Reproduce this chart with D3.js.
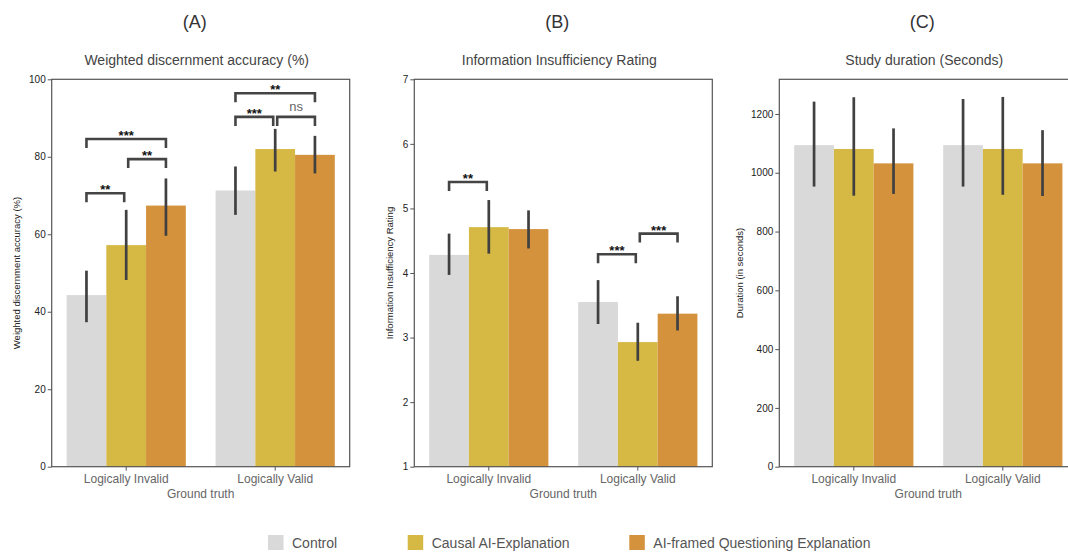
<!DOCTYPE html>
<html>
<head>
<meta charset="utf-8">
<script src="https://cdn.jsdelivr.net/npm/d3@7"></script>
<style>
  body { margin: 0; background: #fff; }
  svg { display: block; font-family: "Liberation Sans", Arial, sans-serif; }
</style>
</head>
<body>
<svg id="chart" width="1068" height="554"></svg>
<script>
// categories
const groups = ["Logically Invalid", "Logically Valid"];
const conditions = ["Control", "Causal AI-Explanation", "AI-framed Questioning Explanation"];
const colors = ["#d9d9d9", "#d6b945", "#d4923c"];

// (A) weighted discernment accuracy, [group][condition]
const accuracyMean = [[44.3, 57.2, 67.4], [71.3, 82.0, 80.5]];
const accuracyLow  = [[37.3, 48.2, 59.6], [65.0, 76.2, 75.7]];
const accuracyHigh = [[50.6, 66.3, 74.4], [77.5, 87.2, 85.4]];
// [group, from, to, level, label]
const accuracySig = [
  [0, 0, 1, 70.6, "**"], [0, 1, 2, 79.4, "**"], [0, 0, 2, 84.6, "***"],
  [1, 0, 1, 90.3, "***"], [1, 1, 2, 90.3, "ns"], [1, 0, 2, 96.4, "**"]
];

// (B) information insufficiency rating
const ratingMean = [[4.28, 4.71, 4.68], [3.55, 2.93, 3.37]];
const ratingLow  = [[3.97, 4.30, 4.38], [3.21, 2.64, 3.11]];
const ratingHigh = [[4.61, 5.13, 4.97], [3.89, 3.23, 3.64]];
const ratingSig = [
  [0, 0, 1, 5.41, "**"], [1, 0, 1, 4.29, "***"], [1, 1, 2, 4.61, "***"]
];

// (C) study duration
const durationMean = [[1094, 1081, 1032], [1094, 1081, 1032]];
const durationLow  = [[953, 922, 928], [953, 925, 921]];
const durationHigh = [[1242, 1257, 1151], [1251, 1258, 1145]];

const panels = [
  { letter: "(A)", title: "Weighted discernment accuracy (%)", ylabel: "Weighted discernment accuracy (%)",
    left: 51.7, domain: [0, 100], ticks: [0, 20, 40, 60, 80, 100],
    mean: accuracyMean, low: accuracyLow, high: accuracyHigh, sig: accuracySig, ylabX: 20 },
  { letter: "(B)", title: "Information Insufficiency Rating", ylabel: "Information Insufficiency Rating",
    left: 414.3, domain: [1, 7], ticks: [1, 2, 3, 4, 5, 6, 7],
    mean: ratingMean, low: ratingLow, high: ratingHigh, sig: ratingSig, ylabX: 393 },
  { letter: "(C)", title: "Study duration (Seconds)", ylabel: "Duration (in seconds)",
    left: 779.3, domain: [0, 1318], ticks: [0, 200, 400, 600, 800, 1000, 1200],
    mean: durationMean, low: durationLow, high: durationHigh, sig: [], ylabX: 743 }
];

const svg = d3.select("#chart");
const plotTop = 79.3, plotBottom = 466.7, plotW = 298;

panels.forEach(p => {
  const g = svg.append("g");
  const x = d3.scaleBand().domain(groups).range([p.left, p.left + plotW]);
  const xc = d3.scaleBand().domain(d3.range(3)).range([0, x.bandwidth() * 0.8]);
  const y = d3.scaleLinear().domain(p.domain).range([plotBottom, plotTop]);
  const barX = (gi, ci) => x(groups[gi]) + x.bandwidth() * 0.1 + xc(ci);
  const barC = (gi, ci) => barX(gi, ci) + xc.bandwidth() / 2;

  const cells = [];
  groups.forEach((gr, gi) => conditions.forEach((c, ci) => cells.push({ gi, ci })));

  g.selectAll("rect.bar").data(cells).join("rect")
    .attr("class", "bar")
    .attr("x", d => barX(d.gi, d.ci))
    .attr("width", xc.bandwidth())
    .attr("y", d => y(p.mean[d.gi][d.ci]))
    .attr("height", d => plotBottom - y(p.mean[d.gi][d.ci]))
    .attr("fill", d => colors[d.ci]);

  g.selectAll("line.err").data(cells).join("line")
    .attr("class", "err")
    .attr("x1", d => barC(d.gi, d.ci)).attr("x2", d => barC(d.gi, d.ci))
    .attr("y1", d => y(p.low[d.gi][d.ci])).attr("y2", d => y(p.high[d.gi][d.ci]))
    .attr("stroke", "#404040").attr("stroke-width", 2.7);

  // significance brackets
  p.sig.forEach(([gi, a, b, lvl, lab]) => {
    const x1 = barC(gi, a) + (a === 1 ? 2 : 0);
    const x2 = barC(gi, b) - (b === 1 ? 2 : 0);
    const yy = y(lvl);
    g.append("path")
      .attr("d", `M${x1},${yy + 9}V${yy}H${x2}V${yy + 9}`)
      .attr("fill", "none").attr("stroke", "#444").attr("stroke-width", 2.6);
    const ns = lab === "ns";
    g.append("text")
      .attr("x", (x1 + x2) / 2).attr("y", ns ? yy - 6 : yy + 1)
      .attr("text-anchor", "middle")
      .attr("font-size", 13).attr("font-weight", ns ? "normal" : "bold")
      .attr("fill", ns ? "#666" : "#111")
      .text(lab);
  });

  // frame
  g.append("rect").attr("x", p.left).attr("y", plotTop).attr("width", plotW).attr("height", plotBottom - plotTop)
    .attr("fill", "none").attr("stroke", "#555").attr("stroke-width", 1.2);

  const ya = g.append("g").attr("transform", `translate(${p.left},0)`)
    .call(d3.axisLeft(y).tickValues(p.ticks).tickFormat(d3.format("d")).tickSize(4).tickPadding(2));
  ya.select(".domain").remove();
  ya.selectAll("text").attr("font-size", 10).attr("fill", "#222").attr("font-family", null);
  ya.selectAll("line").attr("stroke", "#555");

  const xa = g.append("g").attr("transform", `translate(0,${plotBottom})`)
    .call(d3.axisBottom(x).tickSize(4).tickPadding(4));
  xa.select(".domain").remove();
  xa.selectAll("text").attr("font-size", 12).attr("fill", "#666").attr("font-family", null);
  xa.selectAll("line").attr("stroke", "#555");

  const cx = p.left + plotW / 2;
  g.append("text").attr("x", cx).attr("y", 498).attr("text-anchor", "middle")
    .attr("font-size", 12).attr("fill", "#666").text("Ground truth");
  g.append("text").attr("x", cx - 4).attr("y", 65).attr("text-anchor", "middle")
    .attr("font-size", 14).attr("fill", "#444").text(p.title);
  g.append("text").attr("x", cx - 6).attr("y", 28).attr("text-anchor", "middle")
    .attr("font-size", 18).attr("fill", "#333").text(p.letter);
  g.append("text").attr("transform", `translate(${p.ylabX},${(plotTop + plotBottom) / 2}) rotate(-90)`)
    .attr("text-anchor", "middle").attr("font-size", 9.5).attr("fill", "#222").text(p.ylabel);
});

// legend
const legX = [268, 407.7, 629.3];
const leg = svg.append("g").selectAll("g").data(conditions).join("g")
  .attr("transform", (d, i) => `translate(${legX[i]},535)`);
leg.append("rect").attr("width", 15.5).attr("height", 15).attr("fill", (d, i) => colors[i]);
leg.append("text").attr("x", 24).attr("y", 12.7).attr("font-size", 14).attr("fill", "#555").text(d => d);
</script>
</body>
</html>
